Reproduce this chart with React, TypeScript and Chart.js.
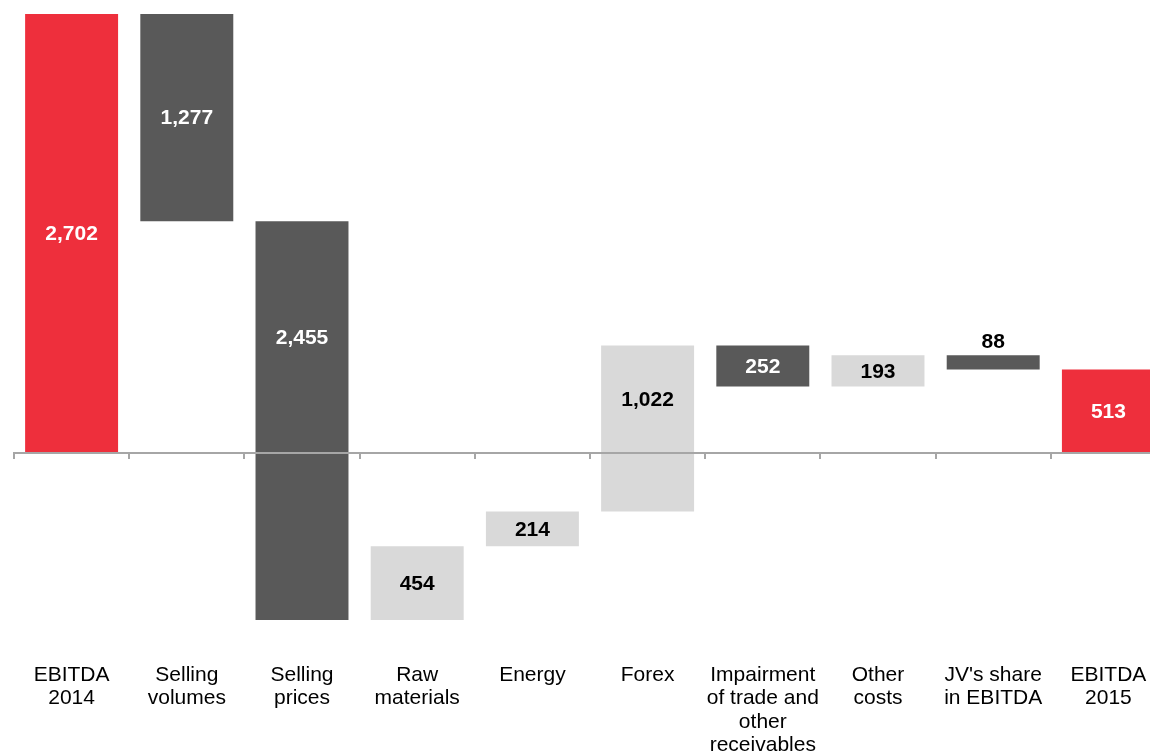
import React, { useEffect, useRef } from "react";
import { Chart, registerables } from "chart.js";

Chart.register(...registerables);

const categories: (string | string[])[] = [
  ["EBITDA", "2014"],
  ["Selling", "volumes"],
  ["Selling", "prices"],
  ["Raw", "materials"],
  "Energy",
  "Forex",
  ["Impairment", "of trade and", "other", "receivables"],
  ["Other", "costs"],
  ["JV's share", "in EBITDA"],
  ["EBITDA", "2015"],
];
const kinds = ["total", "delta", "delta", "delta", "delta", "delta", "delta", "delta", "delta", "total"];
const values = [2702, -1277, -2455, 454, 214, 1022, -252, 193, -88, 513];
const valueLabels = ["2,702", "1,277", "2,455", "454", "214", "1,022", "252", "193", "88", "513"];

const RED = "#EE2F3C";
const DARK = "#595959";
const LIGHT = "#D9D9D9";
const AXIS = "#A6A6A6";
const FONT = "'Liberation Sans', Arial, Helvetica, sans-serif";

function buildRanges() {
  let running = 0;
  return values.map((v, i) => {
    if (kinds[i] === "total") {
      running = v;
      return [0, v];
    }
    const start = running;
    running += v;
    return [start, running];
  });
}

function colorFor(i: number) {
  if (kinds[i] === "total") return RED;
  return values[i] < 0 ? DARK : LIGHT;
}

const waterfallPlugin = {
  id: "waterfallDecor",
  afterDatasetsDraw(chart: any) {
    const { ctx, chartArea, scales } = chart;
    const xs = scales.x;
    const ys = scales.y;
    const zeroY = Math.round(ys.getPixelForValue(0));
    ctx.save();
    ctx.strokeStyle = AXIS;
    ctx.lineWidth = 2;
    ctx.beginPath();
    ctx.moveTo(chartArea.left, zeroY);
    ctx.lineTo(chartArea.right, zeroY);
    ctx.stroke();
    for (let i = 0; i <= categories.length; i++) {
      const x = Math.round(xs.getPixelForValue(i - 0.5));
      ctx.beginPath();
      ctx.moveTo(x, zeroY - 1);
      ctx.lineTo(x, zeroY + 6);
      ctx.stroke();
    }
    const meta = chart.getDatasetMeta(0);
    ctx.font = `bold 21px ${FONT}`;
    ctx.textAlign = "center";
    meta.data.forEach((bar: any, i: number) => {
      const top = Math.min(bar.y, bar.base);
      const bottom = Math.max(bar.y, bar.base);
      let t = top;
      let b = bottom;
      if (top < zeroY && bottom > zeroY) b = zeroY;
      const c = colorFor(i);
      if (b - t < 22) {
        ctx.fillStyle = "#000";
        ctx.textBaseline = "bottom";
        ctx.fillText(valueLabels[i], bar.x, t - 2);
      } else {
        ctx.fillStyle = c === LIGHT ? "#000" : "#FFF";
        ctx.textBaseline = "middle";
        ctx.fillText(valueLabels[i], bar.x, (t + b) / 2 + 1);
      }
    });
    ctx.restore();
  },
};

export default function App() {
  const ref = useRef<HTMLCanvasElement | null>(null);
  useEffect(() => {
    if (!ref.current) return;
    const ranges = buildRanges();
    const chart = new Chart(ref.current, {
      type: "bar",
      data: {
        labels: categories,
        datasets: [
          {
            data: ranges as any,
            backgroundColor: values.map((_, i) => colorFor(i)),
            borderWidth: 0,
            barPercentage: 1,
            categoryPercentage: 0.807,
          },
        ],
      },
      options: {
        animation: false,
        responsive: true,
        maintainAspectRatio: false,
        layout: { padding: { left: 6, right: 22, top: 6, bottom: 0 } },
        plugins: { legend: { display: false }, tooltip: { enabled: false } },
        scales: {
          x: {
            grid: { display: false, drawTicks: false },
            border: { display: false },
            ticks: {
              color: "#000",
              font: { family: FONT, size: 21, lineHeight: 1.1 },
              padding: 44,
              maxRotation: 0,
              autoSkip: false,
            },
            afterFit: (scale: any) => {
              scale.height = 135;
              scale.paddingLeft = 0;
              scale.paddingRight = 0;
            },
          },
          y: {
            display: false,
            min: -1030,
            max: 2702,
          },
        },
      },
      plugins: [waterfallPlugin],
    });
    return () => chart.destroy();
  }, []);
  return (
    <div style={{ position: "absolute", left: 8, top: 8, width: 1142, height: 747, overflow: "hidden" }}>
      <div style={{ width: 1180, height: 747, position: "relative" }}>
        <canvas ref={ref} />
      </div>
    </div>
  );
}
